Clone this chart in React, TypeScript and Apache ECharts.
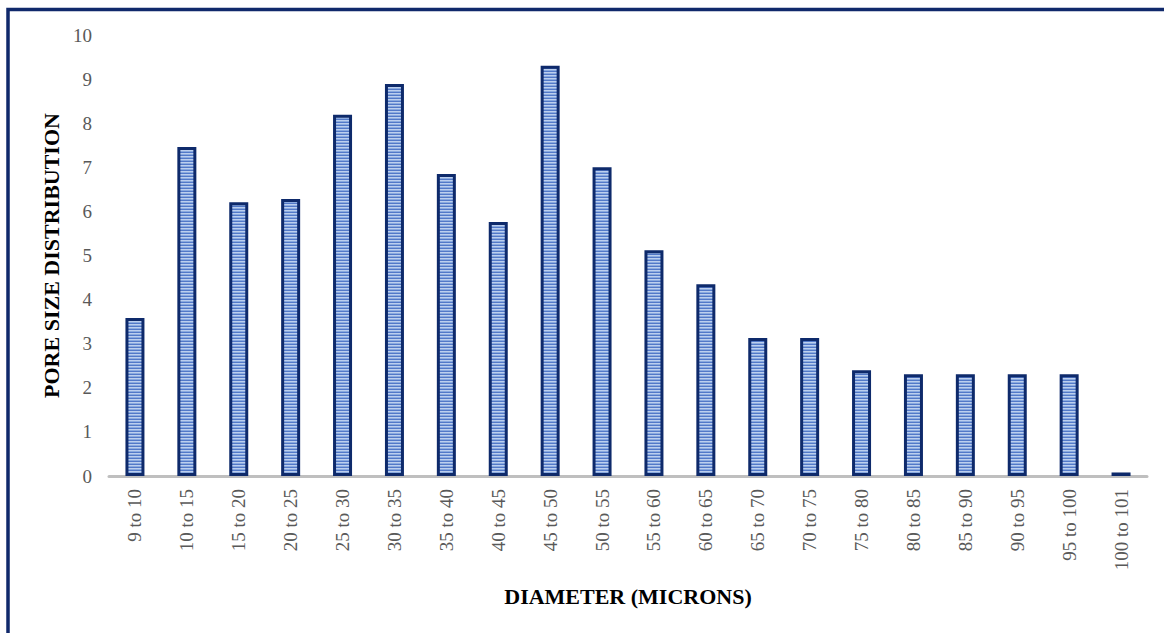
import React, { useEffect, useRef } from "react";
import * as echarts from "echarts";

const categories = [
  "9 to 10", "10 to 15", "15 to 20", "20 to 25", "25 to 30", "30 to 35", "35 to 40",
  "40 to 45", "45 to 50", "50 to 55", "55 to 60", "60 to 65", "65 to 70", "70 to 75",
  "75 to 80", "80 to 85", "85 to 90", "90 to 95", "95 to 100", "100 to 101",
];
const values = [
  3.58, 7.46, 6.21, 6.28, 8.19, 8.89, 6.85, 5.76, 9.3, 7.0, 5.12, 4.35, 3.13, 3.13,
  2.4, 2.31, 2.31, 2.31, 2.31, 0.08,
];
const yTicks = { min: 0, max: 10, interval: 1 };
const xTitle = "DIAMETER (MICRONS)";
const yTitle = "PORE SIZE DISTRIBUTION";

function makePattern(): HTMLCanvasElement {
  const c = document.createElement("canvas");
  c.width = 4;
  c.height = 3;
  const ctx = c.getContext("2d")!;
  const rows = ["#bccfee", "#8aaadf", "#5279c8"];
  rows.forEach((col, i) => {
    ctx.fillStyle = col;
    ctx.fillRect(0, i, 4, 1);
  });
  return c;
}

export default function App() {
  const ref = useRef<HTMLDivElement>(null);
  useEffect(() => {
    if (!ref.current) return;
    const chart = echarts.init(ref.current, undefined, { renderer: "svg" });
    const font = "'Liberation Serif', 'Times New Roman', serif";
    chart.setOption({
      animation: false,
      backgroundColor: "#ffffff",
      grid: { left: 109, right: 17, top: 35, bottom: 157, containLabel: false },
      xAxis: {
        type: "category",
        data: categories,
        name: xTitle,
        nameLocation: "middle",
        nameGap: 109,
        nameTextStyle: { fontFamily: font, fontWeight: "bold", fontSize: 22, color: "#000" },
        axisLine: { lineStyle: { color: "#bfbfbf", width: 3 } },
        axisTick: { show: false },
        axisLabel: {
          rotate: 90,
          interval: 0,
          margin: 13,
          fontFamily: font,
          fontSize: 19,
          color: "#595959",
        },
      },
      yAxis: {
        type: "value",
        min: yTicks.min,
        max: yTicks.max,
        interval: yTicks.interval,
        name: yTitle,
        nameLocation: "middle",
        nameGap: 45,
        nameTextStyle: { fontFamily: font, fontWeight: "bold", fontSize: 22, color: "#000" },
        axisLine: { show: false },
        axisTick: { show: false },
        splitLine: { show: false },
        axisLabel: { fontFamily: font, fontSize: 19, color: "#595959", margin: 17 },
      },
      graphic: [
        {
          type: "rect",
          shape: { x: 8, y: 9.5, width: 1175, height: 650 },
          style: { fill: "none", stroke: "#10296b", lineWidth: 3.5 },
          silent: true,
        },
      ],
      series: [
        {
          type: "bar",
          data: values,
          barWidth: 19,
          itemStyle: {
            color: { image: makePattern(), repeat: "repeat" },
            borderColor: "#0e2a6b",
            borderWidth: 3,
          },
        },
      ],
    });
    return () => chart.dispose();
  }, []);
  return (
    <div
      ref={ref}
      style={{ position: "fixed", left: 0, top: 0, width: 1164, height: 633 }}
    />
  );
}
